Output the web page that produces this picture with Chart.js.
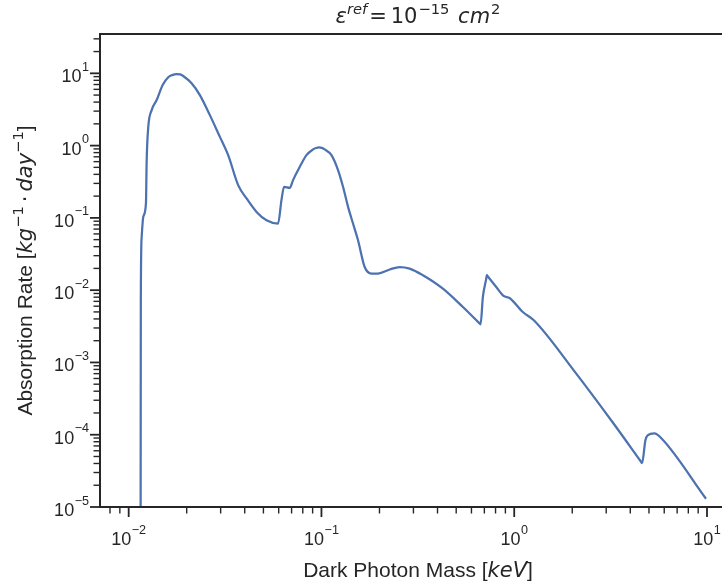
<!DOCTYPE html>
<html>
<head>
<meta charset="utf-8">
<title>Dark photon absorption rate</title>
<script src="https://cdn.jsdelivr.net/npm/chart.js@4.4.0/dist/chart.umd.min.js"></script>
<style>
  html, body { margin: 0; padding: 0; background: #fff; overflow: hidden; }
  #wrap { width: 760px; height: 586px; }
</style>
</head>
<body>
<div id="wrap"><canvas id="chart" width="760" height="586"></canvas></div>
<script>
// data (log-log)
const massKeV = [0.01152, 0.01156, 0.01168, 0.01190, 0.01229, 0.01240, 0.01264, 0.01316, 0.01397, 0.01501,
  0.01604, 0.01680, 0.01773, 0.01850, 0.01918, 0.02120, 0.02341, 0.02638, 0.02973, 0.03282,
  0.03698, 0.04087, 0.04605, 0.05188, 0.05957, 0.06203, 0.06399, 0.06852, 0.07125, 0.07722,
  0.08362, 0.09046, 0.09370, 0.09719, 0.1005, 0.1040, 0.1127, 0.1219, 0.1294, 0.1374,
  0.1458, 0.1548, 0.1676, 0.1816, 0.1965, 0.2259, 0.2546, 0.2867, 0.3360, 0.4266,
  0.5418, 0.655, 0.6690, 0.6877, 0.715, 0.7211, 0.730, 0.8067, 0.8805, 0.9454,
  1.108, 1.264, 2.036, 3.282, 4.50, 4.605, 4.79, 4.92, 5.33, 5.78,
  9.88];
const rate = [1e-7, 0.0072, 0.0546, 0.103, 0.158, 0.63, 1.82, 3.10, 4.27, 6.88,
  8.81, 9.45, 9.78, 9.65, 9.18, 7.27, 5.00, 2.64, 1.32, 0.738,
  0.284, 0.186, 0.121, 0.0929, 0.0836, 0.176, 0.269, 0.260, 0.333, 0.509,
  0.738, 0.885, 0.925, 0.944, 0.93, 0.885, 0.738, 0.458, 0.269, 0.142,
  0.0836, 0.0491, 0.0209, 0.0170, 0.0170, 0.0193, 0.0209, 0.0199, 0.0161, 0.0105,
  0.00585, 0.00356, 0.00337, 0.00805, 0.0142, 0.0161, 0.01545, 0.01107, 0.00832, 0.00780,
  0.00499, 0.00383, 7.78e-4, 1.42e-4, 4.40e-5, 4.04e-5, 8.34e-5, 9.8e-5, 1.04e-4, 9.0e-5,
  1.30e-5];

// axes: decade exponents that get a "10^n" label
const xTickExps = [-2, -1, 0, 1];
const yTickExps = [-5, -4, -3, -2, -1, 0, 1];
const xRange = [0.0071, 14.14];
const yRange = [1e-5, 35];

const INK = '#262626';
const LINE = '#4C72B0';
const SANS = '"Liberation Sans", Arial, sans-serif';
const MATH = '"DejaVu Sans", sans-serif';

// draw a row of text pieces (for superscripts / mixed fonts)
function drawRuns(ctx, runs, x, y, align) {
  let total = 0;
  runs.forEach(r => {
    ctx.font = r.font;
    r.w = ctx.measureText(r.text).width + (r.pre || 0) + (r.post || 0);
    total += r.w;
  });
  let cx = x - total * align;
  runs.forEach(r => {
    ctx.font = r.font;
    ctx.fillText(r.text, cx + (r.pre || 0), y - (r.rise || 0));
    cx += r.w;
  });
}

function powRuns(exp) {
  const sup = exp < 0 ? '\u2212' + (-exp) : String(exp);
  return [
    { text: '10', font: '18px ' + SANS },
    { text: sup, font: '12.6px ' + SANS, rise: 11.5, pre: 0.5 }
  ];
}

function logTicks(range) {
  const out = [];
  const e0 = Math.floor(Math.log10(range[0])), e1 = Math.ceil(Math.log10(range[1]));
  for (let e = e0; e <= e1; e++) {
    for (let m = 1; m <= 9; m++) {
      const v = m * Math.pow(10, e);
      if (v >= range[0] * 0.999 && v <= range[1] * 1.001) out.push({ v, major: m === 1 });
    }
  }
  return out;
}

const mplAxes = {
  id: 'mplAxes',
  afterDraw(chart) {
    const ctx = chart.ctx;
    const { left, right, top, bottom } = chart.chartArea;
    const xs = chart.scales.x, ys = chart.scales.y;
    ctx.save();
    ctx.strokeStyle = INK;
    ctx.fillStyle = INK;
    ctx.textBaseline = 'alphabetic';
    ctx.textAlign = 'left';

    const seg = (x1, y1, x2, y2, w) => {
      ctx.lineWidth = w;
      ctx.beginPath(); ctx.moveTo(x1, y1); ctx.lineTo(x2, y2); ctx.stroke();
    };

    // tick marks
    logTicks(xRange).forEach(t => {
      const px = xs.getPixelForValue(t.v);
      seg(px, bottom, px, bottom + (t.major ? 10 : 6.5), t.major ? 1.8 : 1.4);
    });
    logTicks(yRange).forEach(t => {
      const py = ys.getPixelForValue(t.v);
      seg(left, py, left - (t.major ? 10 : 6.5), py, t.major ? 1.8 : 1.4);
    });

    // spines
    ctx.lineWidth = 2;
    ctx.strokeRect(left, top, right - left, bottom - top);

    // tick labels
    xTickExps.forEach(e => {
      const px = xs.getPixelForValue(Math.pow(10, e));
      drawRuns(ctx, powRuns(e), px, bottom + 38, 0.5);
    });
    yTickExps.forEach(e => {
      const py = ys.getPixelForValue(Math.pow(10, e));
      drawRuns(ctx, powRuns(e), left - 11, py + 9, 1);
    });

    const cx = (left + right) / 2;
    // x label
    drawRuns(ctx, [
      { text: 'Dark Photon Mass [', font: '21px ' + SANS },
      { text: 'keV', font: 'italic 21px ' + MATH },
      { text: ']', font: '21px ' + SANS }
    ], cx, 577, 0.5);

    // y label
    ctx.save();
    ctx.translate(32, (top + bottom) / 2);
    ctx.rotate(-Math.PI / 2);
    drawRuns(ctx, [
      { text: 'Absorption Rate [', font: '21px ' + SANS },
      { text: 'kg', font: 'italic 21px ' + MATH },
      { text: '\u22121', font: '14.7px ' + MATH, rise: 9.5 },
      { text: '\u00B7', font: '21px ' + MATH, pre: 4, post: 4 },
      { text: 'day', font: 'italic 21px ' + MATH },
      { text: '\u22121', font: '14.7px ' + MATH, rise: 9.5 },
      { text: ']', font: '21px ' + SANS }
    ], 0, 0, 0.5);
    ctx.restore();

    // title
    drawRuns(ctx, [
      { text: '\u03B5', font: 'italic 21px ' + MATH },
      { text: 'ref', font: 'italic 14.7px ' + MATH, rise: 9.5 },
      { text: '=', font: '21px ' + MATH, pre: 2, post: 4 },
      { text: '10', font: '21px ' + MATH },
      { text: '\u221215', font: '14.7px ' + MATH, rise: 9.5, pre: 1 },
      { text: ' ', font: '21px ' + MATH, post: 2 },
      { text: 'cm', font: 'italic 21px ' + MATH },
      { text: '2', font: '14.7px ' + MATH, rise: 9.5, pre: 1 }
    ], cx, 23, 0.5);

    ctx.restore();
  }
};

new Chart(document.getElementById('chart'), {
  type: 'line',
  data: {
    datasets: [{
      data: massKeV.map((m, i) => ({ x: m, y: rate[i] })),
      borderColor: LINE,
      borderWidth: 2.25,
      pointRadius: 0,
      fill: false,
      cubicInterpolationMode: 'monotone'
    }]
  },
  options: {
    responsive: false,
    animation: false,
    devicePixelRatio: 1,
    layout: { padding: { left: 100, right: 24, top: 34, bottom: 79 } },
    plugins: { legend: { display: false }, tooltip: { enabled: false } },
    scales: {
      x: { type: 'logarithmic', min: xRange[0], max: xRange[1], display: false },
      y: { type: 'logarithmic', min: yRange[0], max: yRange[1], display: false }
    }
  },
  plugins: [mplAxes]
});
</script>
</body>
</html>
